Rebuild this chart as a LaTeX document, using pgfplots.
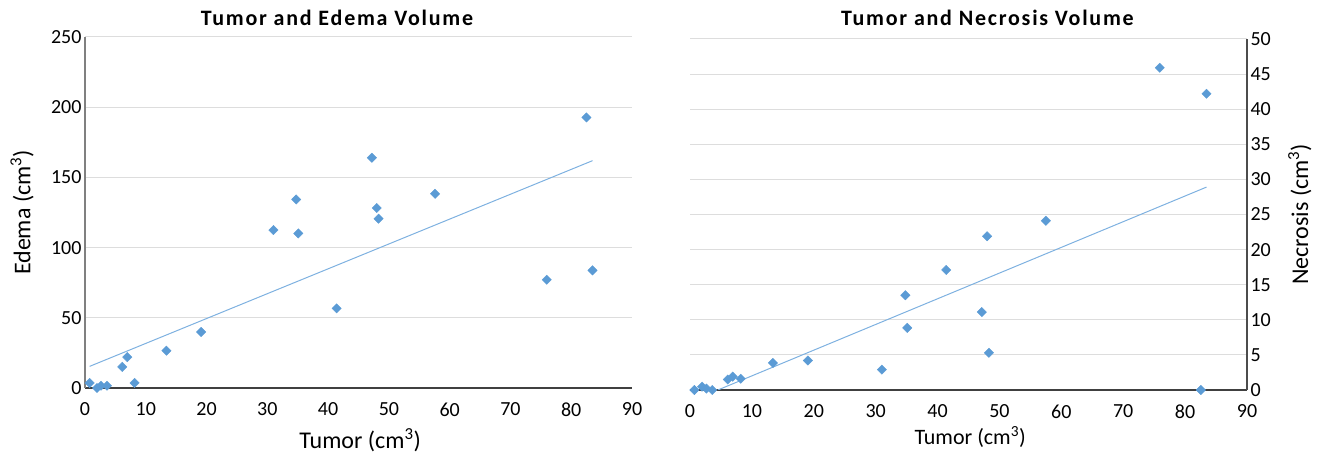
\documentclass[border=0pt]{standalone}
\usepackage{pgfplots}
\pgfplotsset{compat=1.18}
\usepackage{fontspec}
\setmainfont{Carlito}
\newfontfamily\titlefont{Carlito}[LetterSpace=8]
\definecolor{mk}{HTML}{5B9BD5}
\definecolor{tl}{HTML}{7EB1E0}
\definecolor{gridc}{HTML}{DDDDDD}
\pgfplotsset{myax/.style={
  scale only axis, xmin=0, xmax=90, xtick={0,10,...,90},
  ymajorgrids, major grid style={gridc, line width=1pt},
  major tick length=0pt,
  tick label style={font=\fontsize{20}{24}\selectfont},
  /pgf/number format/assume math mode=true,
  axis x line=bottom,
  axis line style={-},
  x axis line style={-, draw=black!75, line width=1.3pt},
  clip mode=individual,
  xticklabel style={yshift=-11pt},
  title style={anchor=center, font=\fontsize{22}{26}\selectfont},
},
pts/.style={only marks, mark=square*, mark size=3.3pt, color=mk,
  every mark/.append style={rotate=45}},
trend/.style={no marks, color=tl, line width=1pt}
}
\begin{document}
\begin{tikzpicture}
\useasboundingbox (0pt,0pt) rectangle (1317pt,457pt);
\begin{axis}[myax, at={(85pt,69pt)}, anchor=south west, width=547pt, height=351pt,
  ymin=0, ymax=250, ytick={0,50,...,250},
  axis y line=left, y axis line style={-, draw=black!50, line width=1.3pt},
  title={\titlefont\bfseries Tumor and Edema Volume},
  title style={at={(axis description cs:0.4607,1.037)}},
  xlabel={Tumor (cm\textsuperscript{3})},
  xlabel style={at={(axis description cs:0.503,-0.148)}, anchor=center, font=\fontsize{24}{28}\selectfont},
  ylabel={Edema (cm\textsuperscript{3})},
  ylabel style={at={(axis description cs:-0.115,0.5)}, anchor=center, font=\fontsize{24}{28}\selectfont},
]
\addplot[trend] coordinates {(0.76,15.4) (83.5,161.9)};
\addplot[pts] coordinates {
(0.76,3.6) (1.97,0) (2.63,1.6) (3.62,1.6) (6.13,15) (6.96,22) (8.16,3.6)
(13.4,26.6) (19.1,39.9) (31.0,112.5) (34.75,134.3) (35.1,110.1) (41.4,56.7)
(47.2,164) (48.0,128.2) (48.3,120.6) (57.6,138.3) (75.98,77.1) (82.5,192.7) (83.5,83.8)};
\end{axis}
\begin{axis}[myax, at={(690pt,67pt)}, anchor=south west, width=557pt, height=351pt,
  ymin=0, ymax=50, ytick={0,5,...,50},
  axis y line=right, y axis line style={-, draw=black!70, line width=1.3pt},
  title={\titlefont\bfseries Tumor and Necrosis Volume},
  title style={at={(axis description cs:0.534,1.043)}},
  xlabel={Tumor (cm\textsuperscript{3})},
  xlabel style={at={(axis description cs:0.503,-0.134)}, anchor=center, font=\fontsize{22}{26}\selectfont},
  ylabel={Necrosis (cm\textsuperscript{3})},
  ylabel style={at={(axis description cs:1.095,0.5)}, anchor=center, font=\fontsize{24}{28}\selectfont},
]
\addplot[trend] coordinates {(4.5,0) (83.45,28.9)};
\addplot[pts] coordinates {
(0.7,0) (1.95,0.47) (2.65,0.2) (3.6,0) (6.1,1.5) (6.9,1.9) (8.2,1.6)
(13.4,3.85) (19.05,4.2) (31.0,2.9) (34.8,13.5) (35.1,8.85) (41.4,17.1)
(47.15,11.1) (48.0,21.9) (48.3,5.3) (57.5,24.1) (75.9,45.9) (82.55,0) (83.45,42.2)};
\end{axis}
\end{tikzpicture}
\end{document}
